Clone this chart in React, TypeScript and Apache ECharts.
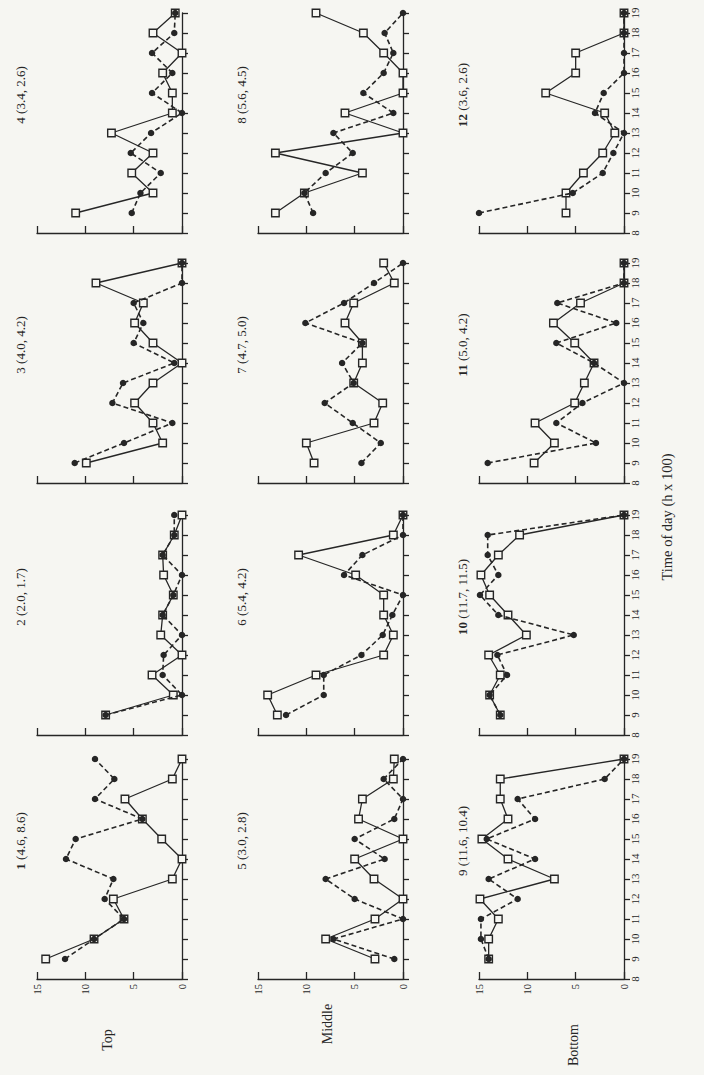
import React, { useEffect, useRef } from "react";
import * as echarts from "echarts";

// ---- data ----
const hours = [9, 10, 11, 12, 13, 14, 15, 16, 17, 18, 19];
const timeRange = [8, 19];
const valueRange = [0, 15];

const panelNumbers = [1, 2, 3, 4, 5, 6, 7, 8, 9, 10, 11, 12];
const panelMeans = [
  "(4.6, 8.6)", "(2.0, 1.7)", "(4.0, 4.2)", "(3.4, 2.6)",
  "(3.0, 2.8)", "(5.4, 4.2)", "(4.7, 5.0)", "(5.6, 4.5)",
  "(11.6, 10.4)", "(11.7, 11.5)", "(5.0, 4.2)", "(3.6, 2.6)",
];
const positionLabels = ["Top", "Middle", "Bottom"];
const timeAxisTitle = "Time of day (h x 100)";

// open squares, solid line
const p1Squares = [14.1, 9.1, 6.0, 7.1, 1.0, 0, 2.1, 4.1, 5.9, 1.0, 0];
const p2Squares = [7.9, 0.9, 3.1, 0, 2.2, 2.0, 0.9, 1.9, 2.0, 0.8, 0];
const p3Squares = [9.9, 2.0, 3.0, 4.9, 3.0, 0, 3.0, 4.9, 4.0, 8.9, 0];
const p4Squares = [11.0, 3.0, 5.2, 3.0, 7.3, 1.0, 1.0, 2.0, 0, 3.0, 0.7];
const p5Squares = [2.9, 8.0, 2.9, 0, 3.0, 5.0, 0, 4.6, 4.2, 1.0, 0.9];
const p6Squares = [13.0, 14.0, 9.0, 2.0, 1.0, 2.0, 2.0, 4.9, 10.8, 1.0, 0];
const p7Squares = [9.2, 10.0, 3.0, 2.1, 5.1, 4.2, 4.2, 6.0, 5.1, 0.9, 2.0];
const p8Squares = [13.2, 10.2, 4.2, 13.2, 0, 6.0, 0, 0, 2.0, 4.1, 9.0];
const p9Squares = [14.0, 14.0, 13.0, 14.9, 7.2, 12.0, 14.7, 12.0, 12.8, 12.8, 0];
const p10Squares = [12.8, 13.9, 12.8, 14.0, 10.1, 12.0, 13.9, 14.8, 13.0, 10.8, 0];
const p11Squares = [9.3, 7.2, 9.2, 5.1, 4.1, 3.1, 5.1, 7.3, 4.5, 0, 0];
const p12Squares = [6.0, 6.0, 4.2, 2.2, 0.95, 2.0, 8.1, 5.0, 5.0, 0, 0];

// filled circles, dashed line
const p1Circles = [12.1, 9.1, 6.0, 8.0, 7.1, 12.0, 11.0, 4.1, 9.0, 7.0, 9.0];
const p2Circles = [7.9, 0, 2.0, 1.9, 0, 2.0, 0.9, 0, 2.0, 0.8, 0.8];
const p3Circles = [11.1, 6.0, 1.0, 7.2, 6.1, 0.8, 5.0, 4.0, 5.0, 0, 0];
const p4Circles = [5.2, 4.3, 2.2, 5.3, 3.2, 0, 3.1, 1.0, 3.1, 0.8, 0.7];
const p5Circles = [0.9, 7.2, 0, 5.0, 8.0, 1.9, 5.0, 0.9, 0, 2.0, 0];
const p6Circles = [12.1, 8.2, 8.2, 4.3, 2.1, 1.1, 0, 6.1, 4.2, 0, 0];
const p7Circles = [4.3, 2.3, 5.2, 8.1, 5.1, 6.3, 4.2, 10.1, 6.1, 3.0, 0];
const p8Circles = [9.3, 10.2, 8.0, 5.2, 7.2, 1.0, 4.1, 2.0, 1.0, 1.9, 0];
const p9Circles = [14.0, 14.8, 14.8, 11.0, 14.0, 9.2, 14.2, 9.2, 11.0, 2.0, 0];
const p10Circles = [12.8, 13.9, 12.1, 13.1, 5.2, 13.0, 14.9, 13.0, 14.1, 14.1, 0];
const p11Circles = [14.1, 2.9, 7.0, 4.3, 0, 3.1, 7.0, 0.8, 6.9, 0, 0];
const p12Circles = [15.0, 5.3, 2.2, 1.1, 0, 3.0, 2.1, 0, 0, 0, 0];

const squareSets = [p1Squares, p2Squares, p3Squares, p4Squares, p5Squares, p6Squares,
  p7Squares, p8Squares, p9Squares, p10Squares, p11Squares, p12Squares];
const circleSets = [p1Circles, p2Circles, p3Circles, p4Circles, p5Circles, p6Circles,
  p7Circles, p8Circles, p9Circles, p10Circles, p11Circles, p12Circles];

// ---- layout / style ----
const INK = "#262626";
const BG = "#f6f6f2";
const SERIF = "'Liberation Serif', 'Times New Roman', serif";
const COL_X0 = [182, 403, 624];
const ROW_TOP = [13, 263, 515, 759];
const PW = 145;
const PH = 220;
const LABEL_POS = [
  [107, 1040],
  [327, 1024],
  [573, 1045],
];

function buildOption() {
  const grid: any[] = [];
  const xAxis: any[] = [];
  const yAxis: any[] = [];
  const series: any[] = [];
  const graphic: any[] = [];

  panelNumbers.forEach((num, i) => {
    const band = Math.floor(i / 4);
    const k = i % 4;
    const col = band;
    const row = 3 - k;
    const left = COL_X0[col] - PW;
    const top = ROW_TOP[row];
    grid.push({ left, top, width: PW, height: PH, containLabel: false });
    xAxis.push({
      gridIndex: i,
      type: "value",
      min: valueRange[0],
      max: valueRange[1],
      interval: 5,
      inverse: true,
      position: "bottom",
      axisLine: { show: true, onZero: false, lineStyle: { color: INK, width: 1.3 } },
      axisTick: { show: true, inside: true, length: 7, lineStyle: { color: INK, width: 1.3 } },
      axisLabel: {
        show: k === 0,
        rotate: 90,
        fontSize: 10.5,
        fontFamily: SERIF,
        color: INK,
        margin: 5,
      },
      splitLine: { show: false },
    });
    yAxis.push({
      gridIndex: i,
      type: "value",
      min: timeRange[0],
      max: timeRange[1],
      interval: 1,
      position: "right",
      axisLine: { show: true, onZero: false, lineStyle: { color: INK, width: 1.3 } },
      axisTick: { show: true, inside: false, length: 6, lineStyle: { color: INK, width: 1.3 } },
      axisLabel: {
        show: band === 2,
        rotate: 90,
        fontSize: 11,
        fontFamily: SERIF,
        color: INK,
        margin: 5,
      },
      splitLine: { show: false },
    });
    series.push({
      type: "line",
      xAxisIndex: i,
      yAxisIndex: i,
      data: squareSets[i].map((v, j) => [v, hours[j]]),
      symbol: "rect",
      symbolSize: 7.5,
      showSymbol: true,
      clip: false,
      silent: true,
      z: 2,
      lineStyle: { color: INK, width: 1.3, type: "solid" },
      itemStyle: { color: BG, borderColor: INK, borderWidth: 1.4 },
    });
    series.push({
      type: "line",
      xAxisIndex: i,
      yAxisIndex: i,
      data: circleSets[i].map((v, j) => [v, hours[j]]),
      symbol: "circle",
      symbolSize: 6.5,
      showSymbol: true,
      clip: false,
      silent: true,
      z: 3,
      lineStyle: { color: INK, width: 1.6, type: [5, 3] },
      itemStyle: { color: INK },
    });
    const bold = String(num).indexOf("1") >= 0;
    graphic.push({
      type: "text",
      x: COL_X0[col] - 162,
      y: top + PH / 2 - 28,
      rotation: Math.PI / 2,
      silent: true,
      style: {
        text: "{n|" + num + "} " + panelMeans[i],
        fill: INK,
        fontSize: 13,
        fontFamily: SERIF,
        align: "center",
        verticalAlign: "middle",
        rich: {
          n: { fontSize: 13, fontFamily: SERIF, fontWeight: bold ? "bold" : "normal", fill: INK },
        },
      },
    });
  });

  positionLabels.forEach((lab, b) => {
    graphic.push({
      type: "text",
      x: LABEL_POS[b][0],
      y: LABEL_POS[b][1],
      rotation: Math.PI / 2,
      silent: true,
      style: {
        text: lab,
        fill: INK,
        fontSize: 14,
        fontFamily: SERIF,
        align: "center",
        verticalAlign: "middle",
      },
    });
  });

  graphic.push({
    type: "text",
    x: 667,
    y: 517,
    rotation: Math.PI / 2,
    silent: true,
    style: {
      text: timeAxisTitle,
      fill: INK,
      fontSize: 14.5,
      fontFamily: SERIF,
      align: "center",
      verticalAlign: "middle",
    },
  });

  return {
    animation: false,
    backgroundColor: BG,
    grid,
    xAxis,
    yAxis,
    series,
    graphic,
  };
}

export default function App() {
  const ref = useRef<HTMLDivElement>(null);
  useEffect(() => {
    if (!ref.current) return;
    const chart = echarts.init(ref.current, null, { renderer: "svg" });
    chart.setOption(buildOption() as any);
    return () => chart.dispose();
  }, []);
  return (
    <div
      ref={ref}
      style={{ position: "absolute", left: 0, top: 0, width: 704, height: 1075, background: BG }}
    />
  );
}
